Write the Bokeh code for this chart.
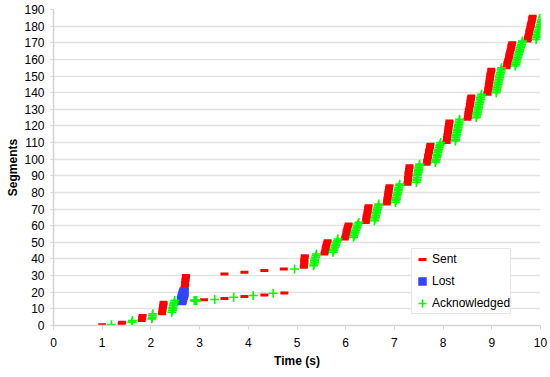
from bokeh.plotting import figure
from bokeh.models import Range1d, SingleIntervalTicker, Legend, LegendItem, ColumnDataSource
from bokeh.embed import file_html
from bokeh.resources import INLINE

# ---------------- data (time in s, segment number) ----------------
# slow start
sent_start_time = [1.00, 1.40, 1.41, 1.81, 1.82, 1.82, 1.83,
                   2.23, 2.23, 2.24, 2.24, 2.25, 2.25, 2.26, 2.26,
                   2.63, 2.64, 2.65, 2.66, 2.67, 2.68, 2.68, 2.69,
                   2.69, 2.70, 2.70, 2.70, 2.71, 2.71, 2.72, 2.72]
sent_start_seg = [0.4, 1, 2, 3, 4, 5, 6,
                  7, 8, 9, 10, 11, 12, 13, 14,
                  15, 16, 17, 18, 19, 20, 21, 22,
                  23, 24, 25, 26, 27, 28, 29, 30]
# loss recovery: retransmissions and new segments
sent_recov_time = [3.09, 3.51, 3.51, 3.92, 3.92, 4.33, 4.33, 4.74, 4.73]
sent_recov_seg = [15.5, 16.2, 31, 17.4, 32, 18.4, 33, 19.6, 34]
# growth bursts
sent_grow_time = [5.14, 5.14, 5.15, 5.15, 5.15, 5.15, 5.16, 5.16,
                  5.56, 5.57, 5.58, 5.59, 5.59, 5.60, 5.61, 5.62, 5.63,
                  5.98, 5.99, 6.00, 6.01, 6.02, 6.02, 6.03, 6.04, 6.05, 6.06,
                  6.41, 6.42, 6.42, 6.43, 6.43, 6.44, 6.45, 6.45, 6.46, 6.46, 6.47,
                  6.84, 6.85, 6.85, 6.86, 6.86, 6.87, 6.87, 6.88, 6.88, 6.89, 6.89, 6.90,
                  7.27, 7.27, 7.28, 7.28, 7.28, 7.29, 7.29, 7.29, 7.30, 7.30, 7.31, 7.31,
                  7.66, 7.67, 7.67, 7.68, 7.69, 7.69, 7.70, 7.71, 7.71, 7.72, 7.73, 7.73, 7.74,
                  8.07, 8.07, 8.08, 8.08, 8.09, 8.09, 8.10, 8.10, 8.11, 8.11, 8.12, 8.12, 8.13, 8.13,
                  8.50, 8.51, 8.51, 8.52, 8.52, 8.53, 8.53, 8.54, 8.55, 8.55, 8.56, 8.56, 8.57, 8.57, 8.58,
                  8.91, 8.91, 8.92, 8.93, 8.93, 8.94, 8.94, 8.95, 8.95, 8.96, 8.96, 8.97, 8.97, 8.98, 8.99, 8.99,
                  9.30, 9.31, 9.32, 9.32, 9.33, 9.34, 9.35, 9.36, 9.36, 9.37, 9.38, 9.39, 9.40, 9.40, 9.41, 9.42,
                  9.73, 9.74, 9.74, 9.75, 9.76, 9.77, 9.77, 9.78, 9.79, 9.80, 9.80, 9.81, 9.82, 9.83, 9.83, 9.84]
sent_grow_seg = list(range(35, 187))

lost_time = [2.63, 2.64, 2.65, 2.66, 2.67, 2.68]
lost_seg = [15, 16, 17, 18, 19, 20]

ack_start_time = [1.19, 1.61, 1.62, 2.02, 2.03, 2.03, 2.04,
                  2.43, 2.44, 2.45, 2.45, 2.46, 2.47, 2.48, 2.49]
ack_start_seg = [0.5, 2, 3, 4, 5, 6, 7,
                 8, 9, 10, 11, 12, 13, 14, 15]
ack_dup_time = [2.89, 2.90, 2.90, 2.91, 2.91, 2.92, 2.92, 2.93, 2.93, 2.94]
ack_dup_seg = [15, 15, 15, 15, 15, 15, 15, 15, 15, 15]
ack_recov_time = [3.31, 3.70, 4.10, 4.51, 4.95]
ack_recov_seg = [15.6, 17, 18, 19.4, 34]
ack_grow_time = [5.34, 5.35, 5.36, 5.36, 5.37, 5.38, 5.39, 5.40,
                 5.74, 5.75, 5.76, 5.78, 5.79, 5.80, 5.81, 5.83, 5.84,
                 6.16, 6.17, 6.18, 6.19, 6.20, 6.22, 6.23, 6.24, 6.25, 6.27,
                 6.59, 6.60, 6.61, 6.62, 6.63, 6.63, 6.64, 6.65, 6.66, 6.67, 6.68,
                 7.02, 7.03, 7.04, 7.04, 7.05, 7.06, 7.07, 7.08, 7.08, 7.09, 7.10, 7.11,
                 7.45, 7.46, 7.46, 7.47, 7.47, 7.48, 7.49, 7.49, 7.50, 7.50, 7.51, 7.52,
                 7.84, 7.85, 7.86, 7.87, 7.88, 7.88, 7.89, 7.90, 7.91, 7.92, 7.93, 7.94, 7.95,
                 8.25, 8.26, 8.26, 8.27, 8.28, 8.28, 8.29, 8.30, 8.31, 8.31, 8.32, 8.33, 8.33, 8.34,
                 8.68, 8.69, 8.70, 8.70, 8.71, 8.72, 8.73, 8.73, 8.74, 8.75, 8.76, 8.77, 8.77, 8.78, 8.79,
                 9.09, 9.10, 9.10, 9.11, 9.12, 9.13, 9.13, 9.14, 9.15, 9.16, 9.16, 9.17, 9.18, 9.19, 9.19, 9.20,
                 9.48, 9.49, 9.50, 9.51, 9.52, 9.53, 9.54, 9.55, 9.56, 9.57, 9.58, 9.59, 9.60, 9.61, 9.62, 9.63,
                 9.91, 9.92, 9.93, 9.94, 9.95, 9.96, 9.97, 9.98, 9.99, 10.00, 10.01, 10.02, 10.03, 10.04, 10.05, 10.06]
ack_grow_seg = list(range(36, 188))

x_ticks_interval = 1
y_ticks_interval = 10

# ---------------- assemble ----------------
sent_src = ColumnDataSource(dict(t=sent_start_time + sent_recov_time + sent_grow_time,
                                 s=sent_start_seg + sent_recov_seg + sent_grow_seg))
lost_src = ColumnDataSource(dict(t=lost_time, s=lost_seg))
ack_src = ColumnDataSource(dict(t=ack_start_time + ack_dup_time + ack_recov_time + ack_grow_time,
                                s=ack_start_seg + ack_dup_seg + ack_recov_seg + ack_grow_seg))

FONT = "Liberation Sans"

p = figure(width=550, height=377, output_backend="svg", toolbar_location=None,
           x_range=Range1d(0, 10), y_range=Range1d(0, 190),
           min_border_left=53, min_border_right=10, min_border_top=9, min_border_bottom=52)
p.outline_line_color = None
p.background_fill_color = "white"
p.border_fill_color = "white"
p.xgrid.visible = False
p.ygrid.grid_line_color = "#e2e2e2"
p.ygrid.grid_line_width = 1.5

p.xaxis.ticker = SingleIntervalTicker(interval=x_ticks_interval, num_minor_ticks=0)
p.yaxis.ticker = SingleIntervalTicker(interval=y_ticks_interval, num_minor_ticks=0)

for ax in (p.xaxis[0], p.yaxis[0]):
    ax.axis_line_color = "#d4d4d4"
    ax.axis_line_width = 1.5
    ax.major_tick_line_color = "#d4d4d4"
    ax.minor_tick_line_color = None
    ax.major_tick_in = 0
    ax.major_label_text_font = FONT
    ax.major_label_text_font_size = "12px"
    ax.major_label_text_color = "black"
    ax.axis_label_text_font = FONT
    ax.axis_label_text_font_size = "12px"
    ax.axis_label_text_font_style = "bold"
    ax.axis_label_text_color = "black"

p.xaxis.major_tick_out = 4
p.xaxis.major_label_standoff = 8
p.xaxis.axis_label = "Time (s)"
p.xaxis.axis_label_standoff = 4
p.yaxis.major_tick_out = 3
p.yaxis.major_label_standoff = 6
p.yaxis.axis_label = "Segments"
p.yaxis.axis_label_standoff = 1

r_sent = p.scatter("t", "s", source=sent_src, marker="dash", size=8,
                   line_color="#FF0000", line_width=3)
r_lost = p.scatter("t", "s", source=lost_src, marker="square", size=9,
                   fill_color="#3344FF", line_color="#3344FF", line_width=0.5)
r_ack = p.scatter("t", "s", source=ack_src, marker="cross", size=9,
                  line_color="#00FF00", line_width=1.6)

legend = Legend(items=[LegendItem(label="Sent", renderers=[r_sent]),
                       LegendItem(label="Lost", renderers=[r_lost]),
                       LegendItem(label="Acknowledged", renderers=[r_ack])],
                location=(358, 11), orientation="vertical",
                glyph_width=20, glyph_height=20, label_height=20,
                spacing=2, padding=0, margin=0, label_standoff=-3,
                label_text_font=FONT, label_text_font_size="12px",
                label_text_color="black",
                border_line_color="#d0d0d0", border_line_width=1,
                background_fill_color="white", background_fill_alpha=1.0)
p.add_layout(legend)

open("out.html", "w").write(file_html(p, INLINE))
